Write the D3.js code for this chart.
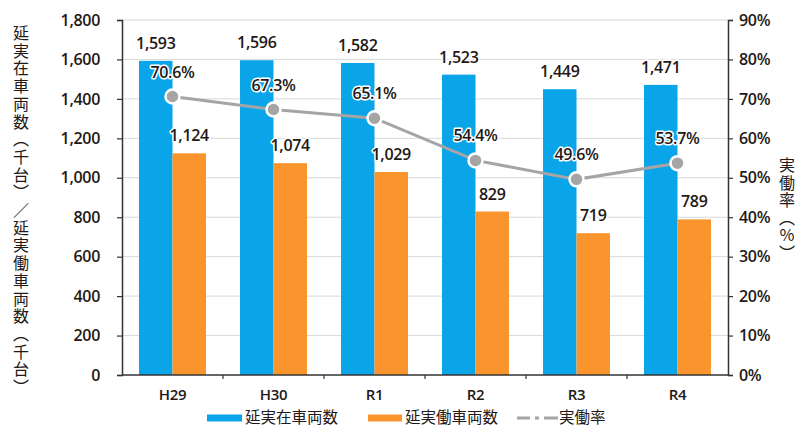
<!DOCTYPE html>
<html lang="ja">
<head>
<meta charset="utf-8">
<script src="https://cdn.jsdelivr.net/npm/d3@7"></script>
<style>
  html, body { margin: 0; padding: 0; background: #fff; }
  svg { display: block; }
  .num { font-family: "Open Sans", sans-serif; font-weight: 600; letter-spacing: -0.3px; }
  .jp { font-family: "Noto Sans CJK JP", sans-serif; }
</style>
</head>
<body>
<svg id="chart" width="799" height="427"></svg>
<script>
// 年度別の延実在車両数・延実働車両数（千台）と実働率（%）
const categories = ["H29", "H30", "R1", "R2", "R3", "R4"];
const registered = [1593, 1596, 1582, 1523, 1449, 1471];   // 延実在車両数
const operating  = [1124, 1074, 1029, 829, 719, 789];      // 延実働車両数
const rate       = [70.6, 67.3, 65.1, 54.4, 49.6, 53.7];   // 実働率
const leftTicks  = [0, 200, 400, 600, 800, 1000, 1200, 1400, 1600, 1800];
const rightTicks = [0, 10, 20, 30, 40, 50, 60, 70, 80, 90];
const seriesNames = ["延実在車両数", "延実働車両数", "実働率"];

const W = 799, H = 427;
const margin = { top: 20, right: 71, bottom: 52, left: 122 };
const plotL = margin.left, plotR = W - margin.right;
const plotT = margin.top, plotB = H - margin.bottom;

const BLUE = "#0aa5e8", ORANGE = "#f9952c", GRAY = "#a5a5a5";
const TEXT = "#231815";

const svg = d3.select("#chart");

const x0 = d3.scaleBand().domain(categories).range([plotL, plotR])
  .paddingInner(0.337).paddingOuter(0.1685);
const x1 = d3.scaleBand().domain(["reg", "op"]).range([0, x0.bandwidth()]);
const yL = d3.scaleLinear().domain([0, 1800]).range([plotB, plotT]);
const yR = d3.scaleLinear().domain([0, 90]).range([plotB, plotT]);

// gridlines
svg.append("g").selectAll("line").data(leftTicks.filter(d => d > 0)).join("line")
  .attr("x1", plotL).attr("x2", plotR)
  .attr("y1", d => yL(d)).attr("y2", d => yL(d))
  .attr("stroke", "#d9d9d9").attr("stroke-width", 1);

// bars
const groups = svg.append("g").selectAll("g").data(categories).join("g")
  .attr("transform", d => `translate(${x0(d)},0)`);
groups.append("rect")
  .attr("x", x1("reg")).attr("width", x1.bandwidth())
  .attr("y", (d, i) => yL(registered[i]))
  .attr("height", (d, i) => plotB - yL(registered[i]))
  .attr("fill", BLUE);
groups.append("rect")
  .attr("x", x1("op")).attr("width", x1.bandwidth())
  .attr("y", (d, i) => yL(operating[i]))
  .attr("height", (d, i) => plotB - yL(operating[i]))
  .attr("fill", ORANGE);

// axes
const fmt = d3.format(",");
const leftAxis = svg.append("g").attr("transform", `translate(${plotL},0)`)
  .call(d3.axisLeft(yL).tickValues(leftTicks).tickFormat(fmt).tickSize(5).tickPadding(17));
const rightAxis = svg.append("g").attr("transform", `translate(${plotR},0)`)
  .call(d3.axisRight(yR).tickValues(rightTicks).tickFormat(d => d + "%").tickSize(5).tickPadding(6));
const bottomAxis = svg.append("g").attr("transform", `translate(0,${plotB})`)
  .call(d3.axisBottom(x0).tickSize(0).tickPadding(14));

[leftAxis, rightAxis, bottomAxis].forEach(a => {
  a.select(".domain").attr("stroke", "#333").attr("stroke-width", 1.5);
  a.selectAll(".tick line").attr("stroke", "#333").attr("stroke-width", 1.2);
  a.selectAll("text").attr("class", "num").attr("fill", TEXT)
    .attr("font-size", 16);
});
bottomAxis.select(".domain").attr("d", `M${plotL},0H${plotR}`);
bottomAxis.selectAll("text").attr("font-size", 15);

// category boundary ticks on the x axis
const bounds = categories.map(c => x0(c) - x0.step() * x0.paddingInner() / 2).slice(1);
svg.append("g").selectAll("line").data(bounds).join("line")
  .attr("x1", d => d).attr("x2", d => d)
  .attr("y1", plotB).attr("y2", plotB + 4)
  .attr("stroke", "#333").attr("stroke-width", 1.2);

// rate line
const cx = c => x0(c) + x0.bandwidth() / 2;
const line = d3.line().x((d, i) => cx(categories[i])).y(d => yR(d));
svg.append("path").datum(rate).attr("d", line)
  .attr("fill", "none").attr("stroke", GRAY).attr("stroke-width", 3);
svg.append("g").selectAll("circle").data(rate).join("circle")
  .attr("cx", (d, i) => cx(categories[i])).attr("cy", d => yR(d))
  .attr("r", 7).attr("fill", GRAY).attr("stroke", "#fff").attr("stroke-width", 2.5);

// value labels with white halo
function label(sel) {
  return sel.attr("class", "num").attr("text-anchor", "middle")
    .attr("font-size", 16).attr("fill", TEXT)
    .attr("stroke", "#fff").attr("stroke-width", 3).attr("stroke-linejoin", "round")
    .attr("paint-order", "stroke");
}
const labels = svg.append("g");
labels.selectAll(".reg").data(registered).join("text")
  .attr("x", (d, i) => x0(categories[i]) + x1("reg") + x1.bandwidth() / 2)
  .attr("y", d => yL(d) - 12)
  .text(d => fmt(d)).call(label);
labels.selectAll(".op").data(operating).join("text")
  .attr("x", (d, i) => x0(categories[i]) + x1("op") + x1.bandwidth() / 2)
  .attr("y", d => yL(d) - 12)
  .text(d => fmt(d)).call(label);
labels.selectAll(".rate").data(rate).join("text")
  .attr("x", (d, i) => cx(categories[i]))
  .attr("y", d => yR(d) - 19)
  .text(d => d.toFixed(1) + "%").call(label);

// axis titles (vertical)
svg.append("text").attr("class", "jp")
  .attr("x", 21).attr("y", 25)
  .style("writing-mode", "vertical-rl")
  .attr("font-size", 16).attr("letter-spacing", 1.7).attr("fill", TEXT)
  .text("延実在車両数（千台）／延実働車両数（千台）");
const rTitle = svg.append("text").attr("class", "jp")
  .attr("x", 787).attr("y", 157)
  .style("writing-mode", "vertical-rl")
  .attr("font-size", 16).attr("letter-spacing", 1.5).attr("fill", TEXT);
rTitle.append("tspan").text("実働率（");
rTitle.append("tspan").style("text-orientation", "upright").text("％");
rTitle.append("tspan").text("）");

// legend
const legend = svg.append("g").attr("class", "jp");
const ly = 418;
legend.append("rect").attr("x", 207).attr("y", ly - 3.5).attr("width", 35).attr("height", 7).attr("fill", BLUE);
legend.append("rect").attr("x", 368).attr("y", ly - 3.5).attr("width", 34).attr("height", 7).attr("fill", ORANGE);
legend.append("line").attr("x1", 517).attr("x2", 558).attr("y1", ly).attr("y2", ly)
  .attr("stroke", GRAY).attr("stroke-width", 3).attr("stroke-dasharray", "13,5,4,5,14");
legend.selectAll("text").data(seriesNames).join("text")
  .attr("x", (d, i) => [245, 405, 559][i]).attr("y", ly + 5)
  .attr("font-size", 15.5).attr("fill", TEXT).text(d => d);
</script>
</body>
</html>
